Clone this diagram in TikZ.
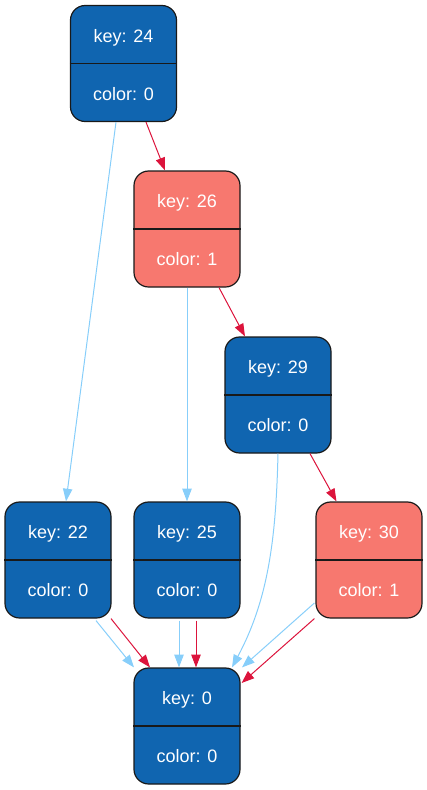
\documentclass[tikz,border=0pt]{standalone}
\usepackage{fontspec}
\setmainfont{Liberation Sans}
\usetikzlibrary{arrows.meta,calc}
\definecolor{nblue}{HTML}{1065B0}
\definecolor{nred}{HTML}{F7786F}
\definecolor{eblue}{HTML}{87CEFA}
\definecolor{ered}{HTML}{DC143C}
\newcommand\rbnode[6]{%
  \node[rb, fill=#6] (#1) at (#2,#3) {};
  \draw[divider] (#1.west) -- (#1.east);
  \node[lbl] (#1k) at ($(#1.center)!0.5!(#1.north)+(0,8)$) {key: #4};
  \node[lbl] (#1c) at ($(#1.center)!0.5!(#1.south)+(0,7.5)$) {color: #5};
}
\begin{document}
\begin{tikzpicture}[x=0.75pt,y=-0.75pt,
  rb/.style={draw=black!90, line width=0.9pt, rounded corners=11pt,
    minimum width=79.5pt, minimum height=87pt, inner sep=0pt},
  divider/.style={draw=black!90, line width=0.9pt},
  lbl/.style={text=white, font=\fontsize{13.5pt}{16pt}\selectfont, inner sep=0pt, anchor=base},
  edge/.style={line width=0.75pt, -{Triangle[length=9.5pt,width=7pt]}},
  eb/.style={edge, draw=eblue},
  er/.style={edge, draw=ered}]
\useasboundingbox (0,0) rectangle (427,790);
\rbnode{n24}{123.5}{63.5}{24}{0}{nblue}
\rbnode{n26}{187}{229}{26}{1}{nred}
\rbnode{n29}{278}{395}{29}{0}{nblue}
\rbnode{n22}{58}{560}{22}{0}{nblue}
\rbnode{n25}{187}{560}{25}{0}{nblue}
\rbnode{n30}{369}{560}{30}{1}{nred}
\rbnode{n0}{187}{726}{0}{0}{nblue}
% edges
\draw[eb] ($(n24.south)+(-7.5,0)$) -- ($(n22.north)+(8,0)$);
\draw[er] ($(n24.south)+(22.5,0)$) -- ($(n26.north)+(-22,0)$);
\draw[eb] (n26.south) -- (n25.north);
\draw[er] ($(n26.south)+(32,0)$) -- ($(n29.north)+(-33,0)$);
\draw[eb] (n29.south) .. controls (276,540) and (268,600) .. ($(n0.north)+(45,0)$);
\draw[er] ($(n29.south)+(32,0)$) -- ($(n30.north)+(-32.5,0)$);
\draw[eb] ($(n22.south)+(38,2)$) -- ($(n0.north)+(-53,0)$);
\draw[er] ($(n22.south)+(53,0)$) -- ($(n0.north)+(-37,0)$);
\draw[eb] ($(n25.south)+(-8,2)$) -- ($(n0.north)+(-8,0)$);
\draw[er] ($(n25.south)+(9,2)$) -- ($(n0.north)+(9,0)$);
\draw[eb] ($(n30.west)+(-1,43)$) -- ($(n0.north)+(55,0)$);
\draw[er] ($(n30.south west)+(-1,0)$) -- ($(n0.east)+(1,-43)$);
\end{tikzpicture}
\end{document}
